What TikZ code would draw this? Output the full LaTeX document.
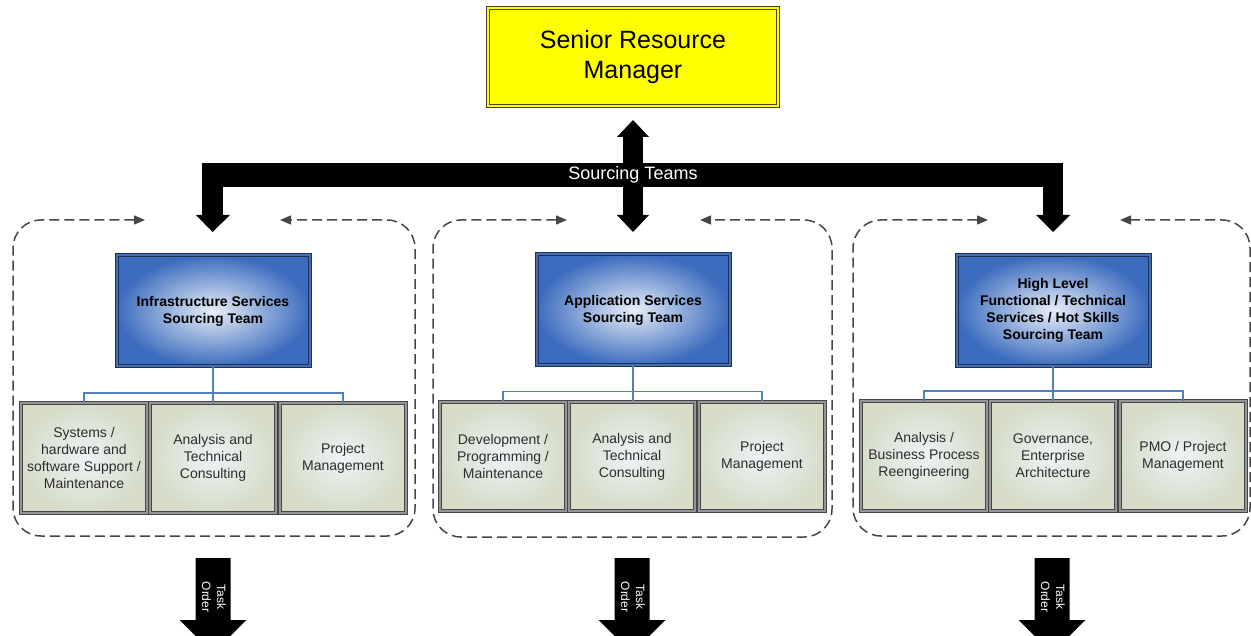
\documentclass[tikz,border=0pt]{standalone}
\usepackage{fontspec}
\setmainfont{Liberation Sans}
\usetikzlibrary{arrows.meta,calc}
\definecolor{srmfill}{RGB}{255,255,0}
\definecolor{srmline}{RGB}{70,70,20}
\definecolor{blueouter}{RGB}{60,108,190}
\definecolor{blueinner}{RGB}{232,238,248}
\definecolor{blueline}{RGB}{30,48,85}
\definecolor{blueband}{RGB}{70,110,180}
\definecolor{greenouter}{RGB}{214,220,200}
\definecolor{greeninner}{RGB}{238,242,246}
\definecolor{greenline}{RGB}{70,70,70}
\definecolor{greenband}{RGB}{150,150,150}
\definecolor{connblue}{RGB}{79,129,189}
\definecolor{dashgray}{RGB}{70,70,70}
\definecolor{txtgray}{RGB}{45,45,45}
\newcommand{\taskarrow}[2]{%
  \begin{scope}[shift={(#1,0)}]
    \fill (-17.5,558) -- (17.5,558) -- (17.5,620) -- (33.5,620) -- (0,653)
          -- (-33.5,620) -- (-17.5,620) -- cycle;
    \node[tasktext] (#2) at (1,597) {Task\\Order};
  \end{scope}}
\begin{document}
\begin{tikzpicture}[x=1pt,y=-1pt,
  senior/.style={rectangle, fill=srmfill, draw=srmline, line width=1pt,
    double=srmfill, double distance=2pt, minimum width=290pt, minimum height=98pt,
    inner sep=0pt, align=center, font=\fontsize{25}{30}\selectfont},
  bartext/.style={text=white, inner sep=1pt, font=\fontsize{18}{20}\selectfont},
  bluebox/.style={rectangle, draw=blueline, line width=1pt, double=blueband,
    double distance=2pt, inner color=blueinner, outer color=blueouter,
    minimum width=193pt, minimum height=111pt, inner sep=0pt, align=center,
    font=\bfseries\fontsize{14}{17}\selectfont},
  greenbox/.style={rectangle, draw=greenline, line width=1pt, double=greenband,
    double distance=2pt, inner color=greeninner, outer color=greenouter,
    minimum width=126pt, minimum height=109pt, inner sep=0pt, align=center,
    text=txtgray, font=\fontsize{14}{17}\selectfont},
  conn/.style={draw=connblue, line width=1.5pt},
  dashbox/.style={draw=dashgray, line width=1.5pt, dash pattern=on 10pt off 5pt,
    rounded corners=28pt,
    {Triangle[length=11pt,width=9pt]}-{Triangle[length=11pt,width=9pt]}},
  tasktext/.style={text=white, rotate=-90, align=center, inner sep=0pt,
    font=\fontsize{12}{15}\selectfont}
]
\useasboundingbox (0,0) rectangle (1251,636);

% Senior Resource Manager
\node[senior] (srm) at (633,57) {Senior Resource\\Manager};

% Sourcing Teams bar with arrows
\fill (202,163) rectangle (1063,187);
\fill (202,163) rectangle (223,215);
\fill (196,215) -- (230,215) -- (212.5,232) -- cycle;
\fill (1043,163) rectangle (1063,215);
\fill (1036,215) -- (1070,215) -- (1053,232) -- cycle;
\fill (623,137) rectangle (643,215);
\fill (617,137) -- (649,137) -- (633,120) -- cycle;
\fill (617,215) -- (649,215) -- (633,232) -- cycle;
\node[bartext] (st) at (633,175) {Sourcing Teams};

% dashed group boxes
\coordinate (la) at (145,220); \coordinate (lb) at (280,220);
\coordinate (ma) at (567,220); \coordinate (mb) at (700,220);
\coordinate (ra) at (988,220); \coordinate (rb) at (1120,220);
\draw[dashbox] (la) -- (13,220) -- (13,536) -- (415,536) -- (415,220) -- (lb);
\draw[dashbox] (ma) -- (433,220) -- (433,537) -- (832,537) -- (832,220) -- (mb);
\draw[dashbox] (ra) -- (853,220) -- (853,536) -- (1250,536) -- (1250,220) -- (rb);

% team boxes
\node[bluebox] (b1) at (213,311) {Infrastructure Services\\Sourcing Team};
\node[bluebox] (b2) at (633,310) {Application Services\\Sourcing Team};
\node[bluebox] (b3) at (1053,310.5) {High Level\\Functional / Technical\\Services / Hot Skills\\Sourcing Team};

% sub boxes
\node[greenbox] (g11) at (84,458) {Systems /\\hardware and\\software Support /\\Maintenance};
\node[greenbox] (g12) at (213,458) {Analysis and\\Technical\\Consulting};
\node[greenbox] (g13) at (343,458) {Project\\Management};

\node[greenbox] (g21) at (503,456.5) {Development /\\Programming /\\Maintenance};
\node[greenbox] (g22) at (632,456.5) {Analysis and\\Technical\\Consulting};
\node[greenbox] (g23) at (762,456.5) {Project\\Management};

\node[greenbox] (g31) at (924,456) {Analysis /\\Business Process\\Reengineering};
\node[greenbox] (g32) at (1053,456) {Governance,\\Enterprise\\Architecture};
\node[greenbox] (g33) at (1183,456) {PMO / Project\\Management};

% connectors
\draw[conn] (g11.north) -- ++(0,-10) -| (g13.north);
\draw[conn] (b1.south) -- (b1.south |- g12.north);
\draw[conn] (g21.north) -- ++(0,-10) -| (g23.north);
\draw[conn] (b2.south) -- (b2.south |- g22.north);
\draw[conn] (g31.north) -- ++(0,-10) -| (g33.north);
\draw[conn] (b3.south) -- (b3.south |- g32.north);

% task order arrows
\taskarrow{213}{t1}
\taskarrow{632}{t2}
\taskarrow{1052}{t3}
\end{tikzpicture}
\end{document}
